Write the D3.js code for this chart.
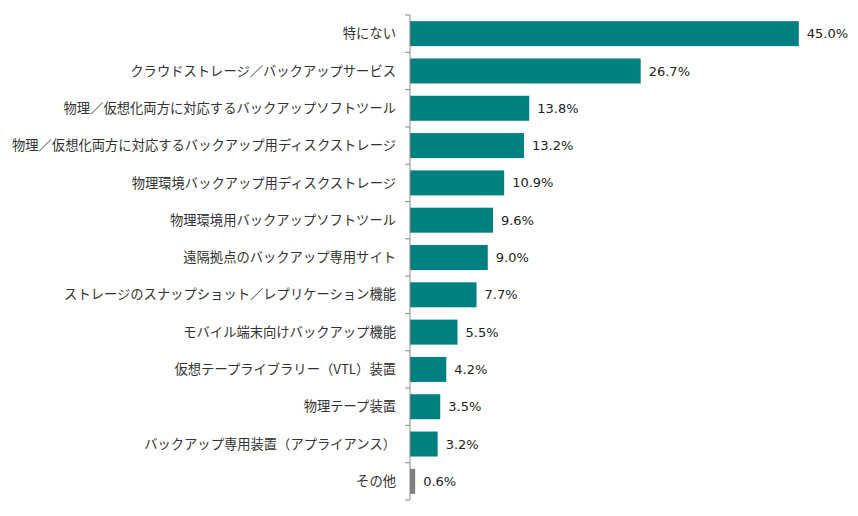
<!DOCTYPE html>
<html>
<head>
<meta charset="utf-8">
<script src="https://cdn.jsdelivr.net/npm/d3@7"></script>
<style>
body { margin: 0; background: #fff; }
</style>
</head>
<body>
<div id="chart-area"></div>
<script>
var categories = [
    "特にない",
    "クラウドストレージ／バックアップサービス",
    "物理／仮想化両方に対応するバックアップソフトツール",
    "物理／仮想化両方に対応するバックアップ用ディスクストレージ",
    "物理環境バックアップ用ディスクストレージ",
    "物理環境用バックアップソフトツール",
    "遠隔拠点のバックアップ専用サイト",
    "ストレージのスナップショット／レプリケーション機能",
    "モバイル端末向けバックアップ機能",
    "仮想テープライブラリー（VTL）装置",
    "物理テープ装置",
    "バックアップ専用装置（アプライアンス）",
    "その他"
];
var values = [45.0, 26.7, 13.8, 13.2, 10.9, 9.6, 9.0, 7.7, 5.5, 4.2, 3.5, 3.2, 0.6];

var margin = {top: 15, bottom: 16, left: 410, right: 16};
var width = 858 - margin.left - margin.right;
var height = 516 - margin.top - margin.bottom;

var svg = d3.select("#chart-area").append("svg")
    .attr("width", 858)
    .attr("height", 516);

var g = svg.append("g")
    .attr("transform", "translate(" + margin.left + ", " + margin.top + ")");

var data = categories.map((c, i) => { return {name: c, value: values[i]}; });

var y = d3.scaleBand()
    .domain(categories)
    .range([0, height])
    .paddingInner(0.33)
    .paddingOuter(0.165);

var x = d3.scaleLinear()
    .domain([0, 50])
    .range([0, 432]);

g.selectAll("rect")
    .data(data)
    .enter()
    .append("rect")
        .attr("x", 0)
        .attr("y", (d) => y(d.name))
        .attr("width", (d) => x(d.value))
        .attr("height", y.bandwidth())
        .attr("fill", (d) => d.name == "その他" ? "#808080" : "#008080");

g.selectAll("text.value")
    .data(data)
    .enter()
    .append("text")
        .attr("class", "value")
        .attr("x", (d) => x(d.value) + 8)
        .attr("y", (d) => y(d.name) + y.bandwidth() / 2)
        .attr("dy", "0.35em")
        .attr("font-family", "'DejaVu Sans', sans-serif")
        .attr("font-size", "13px")
        .attr("fill", "#222")
        .text((d) => d.value.toFixed(1) + "%");

// left axis: line with ticks at band boundaries
var axis = g.append("g").attr("class", "left axis");
axis.append("line")
    .attr("x1", 0).attr("x2", 0)
    .attr("y1", 0).attr("y2", height)
    .attr("stroke", "#888");

var bounds = categories.map((c) => y(c) - y.step() * y.paddingInner() / 2);
bounds.push(height);
bounds[0] = 0;
axis.selectAll("line.tick")
    .data(bounds)
    .enter()
    .append("line")
        .attr("class", "tick")
        .attr("x1", -5).attr("x2", 0)
        .attr("y1", (d) => d).attr("y2", (d) => d)
        .attr("stroke", "#888");

axis.selectAll("text")
    .data(categories)
    .enter()
    .append("text")
        .attr("x", -14)
        .attr("y", (d) => y(d) + y.bandwidth() / 2)
        .attr("dy", "0.35em")
        .attr("text-anchor", "end")
        .attr("font-family", "'Noto Sans CJK JP', sans-serif")
        .attr("font-size", "13.3px")
        .attr("fill", "#333")
        .text((d) => d);
</script>
</body>
</html>
